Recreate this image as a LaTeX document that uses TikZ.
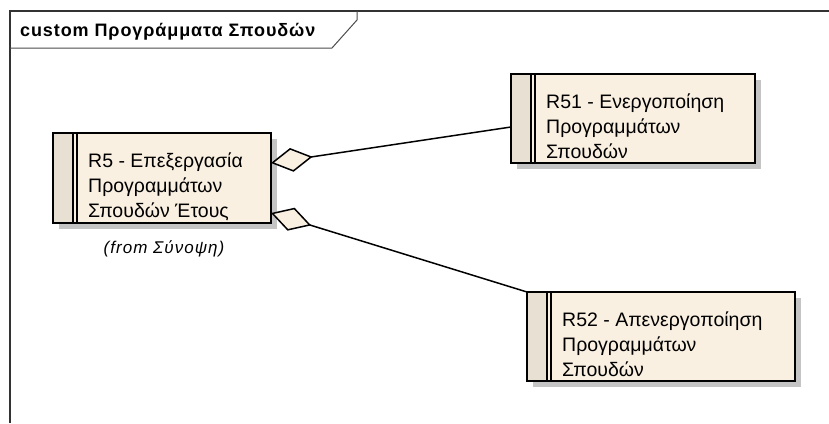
\documentclass[tikz,border=0pt]{standalone}
\usepackage{fontspec}
\setmainfont{Liberation Sans}
\newfontfamily\widefont[LetterSpace=5]{Liberation Sans}
\newfontfamily\fromfont[LetterSpace=6]{Liberation Sans}
\usetikzlibrary{calc,arrows.meta}
\definecolor{reqfill}{HTML}{FAF0E1}
\definecolor{reqstrip}{HTML}{E8E0D2}
\definecolor{reqshade}{HTML}{C4C4C4}
\tikzset{
  reqbox/.style={fill=reqfill, inner sep=0, outer sep=0},
  reqtext/.style={anchor=north west, inner sep=0, align=left,
    font=\fontsize{19.5}{25}\selectfont},
  agg/.style={line width=1.5pt, {Diamond[fill=reqfill, length=42pt, width=24pt]}-},
}
\newcommand{\REQBOX}[5]{
  \fill[reqshade] ($#2+(6,6)$) rectangle ++(#3,#4);
  \node[reqbox, minimum width=#3, minimum height=#4, anchor=north west] (#1) at #2 {};
  \fill[reqstrip] (#1.north west) rectangle ($(#1.south west)+(20,0)$);
  \draw[line width=1.5pt] ($(#1.north west)+(20,0)$) -- ($(#1.south west)+(20,0)$);
  \draw[line width=1.5pt] ($(#1.north west)+(24,0)$) -- ($(#1.south west)+(24,0)$);
  \draw[line width=2pt] (#1.north west) rectangle (#1.south east);
  \node[reqtext] (#1-txt) at ($(#1.north west)+(35,16.5)$) {\strut #5};
}

\begin{document}
\begin{tikzpicture}[x=1pt, y=-1pt]
  \useasboundingbox[fill=white] (0,0) rectangle (829,423);

  % frame
  \draw[line width=2pt, black!80] (10,423) -- (10,11) -- (829,11);
  \draw[line width=1pt, black!70] (357,11) -- (357,20) -- (332,48) -- (10,48);
  \node[anchor=base west, inner sep=0, font=\widefont\bfseries\fontsize{18}{20}\selectfont]
    (title) at (20,36) {custom Προγράμματα Σπουδών};

  \REQBOX{r5}{(53,133)}{218}{90}{R5 - Επεξεργασία\\Προγραμμάτων\\Σπουδών Έτους}
  \REQBOX{r51}{(511,74)}{244}{89}{R51 - Ενεργοποίηση\\Προγραμμάτων\\Σπουδών}
  \REQBOX{r52}{(527,292)}{268}{89}{R52 - Απενεργοποίηση\\Προγραμμάτων\\Σπουδών}

  \node[anchor=base, inner sep=0, font=\fromfont\itshape\fontsize{17}{18}\selectfont]
    (r5-from) at (164,253) {(from Σύνοψη)};

  \draw[agg] ([yshift=15pt]r5.east) -- ([yshift=-8.5pt]r51.west);
  \draw[agg] ([yshift=-35pt]r5.east) -- (r52.north west);
\end{tikzpicture}
\end{document}
